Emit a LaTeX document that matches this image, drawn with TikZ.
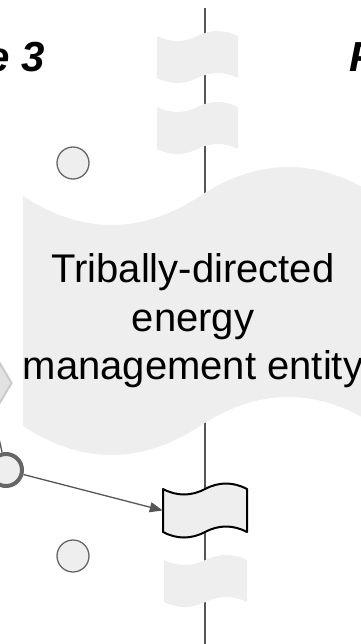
\documentclass[tikz,border=0pt]{standalone}
\usepackage{fontspec}
\setmainfont{Liberation Sans}
\usepackage{tikz}
\usetikzlibrary{arrows.meta,shapes.geometric}

\definecolor{lanefill}{RGB}{238,238,238}
\definecolor{rimgray}{RGB}{102,102,102}
\definecolor{flowgray}{RGB}{85,85,85}
\definecolor{gatefill}{RGB}{226,226,226}

\begin{document}
\begin{tikzpicture}[x=1pt,y=1pt,yscale=-1,
  tape/.style={fill=lanefill,draw=none},
  msgtape/.style={fill=lanefill,draw=black,line width=2,line join=round},
  evt/.style={circle,fill=lanefill,draw=rimgray,line width=1.3,minimum size=32,inner sep=0},
  endevt/.style={evt,line width=4},
  gate/.style={diamond,fill=gatefill,draw=gatefill!90!black,line width=2,minimum width=60,minimum height=100,inner sep=0},
  flow/.style={draw=flowgray,line width=1.3,-{Triangle[length=13,width=10]}},
  seqflow/.style={draw=flowgray,line width=1.3},
  phase/.style={font=\fontsize{42}{50}\selectfont\bfseries\itshape,inner sep=0}]
\useasboundingbox (0,0) rectangle (360,644);

%Straight Lines: lane border
\draw [flowgray,line width=1.2]  (205,8) -- (205,644) ;

%Shape: Tape
\draw [tape]  (157,36) .. controls (170.5,42.67) and (184,42.67) .. (197.5,36) .. controls (211,29.33) and (224.5,29.33) .. (238,36) -- (238,78) .. controls (224.5,71.33) and (211,71.33) .. (197.5,78) .. controls (184,84.67) and (170.5,84.67) .. (157,78) -- cycle ;
%Shape: Tape
\draw [tape]  (157,107) .. controls (170.5,113.67) and (184,113.67) .. (197.5,107) .. controls (211,100.33) and (224.5,100.33) .. (238,107) -- (238,149) .. controls (224.5,142.33) and (211,142.33) .. (197.5,149) .. controls (184,155.67) and (170.5,155.67) .. (157,149) -- cycle ;
%Shape: Tape (large)
\draw [tape]  (23,196) .. controls (82,234.67) and (141,234.67) .. (200,196) .. controls (259,157.33) and (318,157.33) .. (377,196) -- (377,426) .. controls (318,387.33) and (259,387.33) .. (200,426) .. controls (141,464.67) and (82,464.67) .. (23,426) -- cycle ;
%Shape: Tape
\draw [tape]  (164,560) .. controls (177.83,566.67) and (191.67,566.67) .. (205.5,560) .. controls (219.33,553.33) and (233.17,553.33) .. (247,560) -- (247,602) .. controls (233.17,595.33) and (219.33,595.33) .. (205.5,602) .. controls (191.67,608.67) and (177.83,608.67) .. (164,602) -- cycle ;
%Shape: Tape (message)
\draw [msgtape]  (163,489) .. controls (177,496.33) and (191,496.33) .. (205,489) .. controls (219,481.67) and (233,481.67) .. (247,489) -- (247,532) .. controls (233,524.67) and (219,524.67) .. (205,532) .. controls (191,539.33) and (177,539.33) .. (163,532) -- cycle ;
\node (msgA) [minimum width=84,minimum height=43,inner sep=0] at (205,510.5) {};

%Shape: Diamond
\node (gw) [gate] at (-18,383) {};
%Shape: Circle
\node (startA) [evt] at (73,163) {};
\node (startB) [evt] at (73,556) {};
\node (endC) [endevt] at (6,470) {};

%Straight Lines
\coordinate (gwout) at (-4,425);
\draw [seqflow]  (gwout) -- (endC) ;
\draw [flow]  (endC) -- (msgA.west) ;

% Text Node
\node (phA) [phase,anchor=base west] at (-14,72) {e 3};
% Text Node
\node (phB) [phase,anchor=base west] at (349,72) {P};
% Text Node
\node (lbl) [font=\fontsize{40}{48.5}\selectfont,align=center] at (193,321) {Tribally-directed\\energy\\management entity};

\end{tikzpicture}
\end{document}
